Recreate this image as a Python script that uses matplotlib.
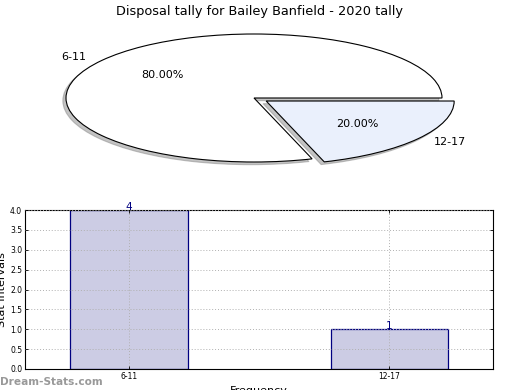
import matplotlib.pyplot as plt

# data
title = "Disposal tally for Bailey Banfield - 2020 tally"
intervals = ["6-11", "12-17"]
counts = [4, 1]
pie_colors = ["white", "#eaf0fc"]
explode = [0, 0.08]

W, H = 520, 390
fig = plt.figure(figsize=(W / 100, H / 100), dpi=100)

# --- pie (stretched into an ellipse) ---
# ellipse centre ~ (254, 98) px, radii ~ 188 x 64 px
lim = 1.2
cx, cy, rx, ry = 254, 98, 188, 64
ax1 = fig.add_axes([(cx - rx * lim) / W, (H - cy - ry * lim) / H,
                    2 * rx * lim / W, 2 * ry * lim / H])
wedges, texts, autotexts = ax1.pie(counts, labels=intervals, colors=pie_colors,
                                   explode=explode, autopct='%.2f%%',
                                   shadow={'ox': -0.012, 'oy': -0.03, 'color': '#888888'},
                                   startangle=0,
                                   wedgeprops={'edgecolor': 'black', 'linewidth': 0.8},
                                   textprops={'fontsize': 8})
ax1.set_aspect('auto')
ax1.set_xlim(-lim, lim)
ax1.set_ylim(-lim, lim)
fig.text(0.5, 1 - 11 / H, title, ha='center', va='center', fontsize=9.3)

# --- bar chart ---
ax2 = fig.add_axes([25 / W, (H - 369) / H, (493 - 25) / W, (369 - 210) / H])
x = list(range(len(intervals)))
bars = ax2.bar(x, counts, width=0.45, color='#ccccE4', edgecolor='navy', linewidth=0.9)
for xi, c in zip(x, counts):
    ax2.text(xi, c - 0.04, str(c), ha='center', va='bottom', color='navy', fontsize=7.5)
ax2.set_xlim(-0.4, 1.4)
ax2.set_ylim(0, 4.0)
ax2.set_yticks([0, 0.5, 1.0, 1.5, 2.0, 2.5, 3.0, 3.5, 4.0])
ax2.set_yticklabels(["%.1f" % v for v in ax2.get_yticks()])
ax2.set_xticks(x)
ax2.set_xticklabels(intervals)
ax2.tick_params(labelsize=5.5, direction='in', right=True, top=True, length=2.5, width=0.6, pad=2)
ax2.grid(True, linestyle=(0, (1, 2)), color='#b0b0b0', linewidth=0.7)
ax2.set_axisbelow(False)
for b in bars:
    b.set_zorder(0.5)
ax2.set_ylabel("Stat Intervals", fontsize=8, labelpad=2)
ax2.set_xlabel("Frequency", fontsize=8, labelpad=4)

fig.text(0, 8 / H, "Dream-Stats.com", color='#999999', fontsize=7.6, fontweight='bold',
         ha='left', va='center')

fig.savefig("out.png", dpi=100)
